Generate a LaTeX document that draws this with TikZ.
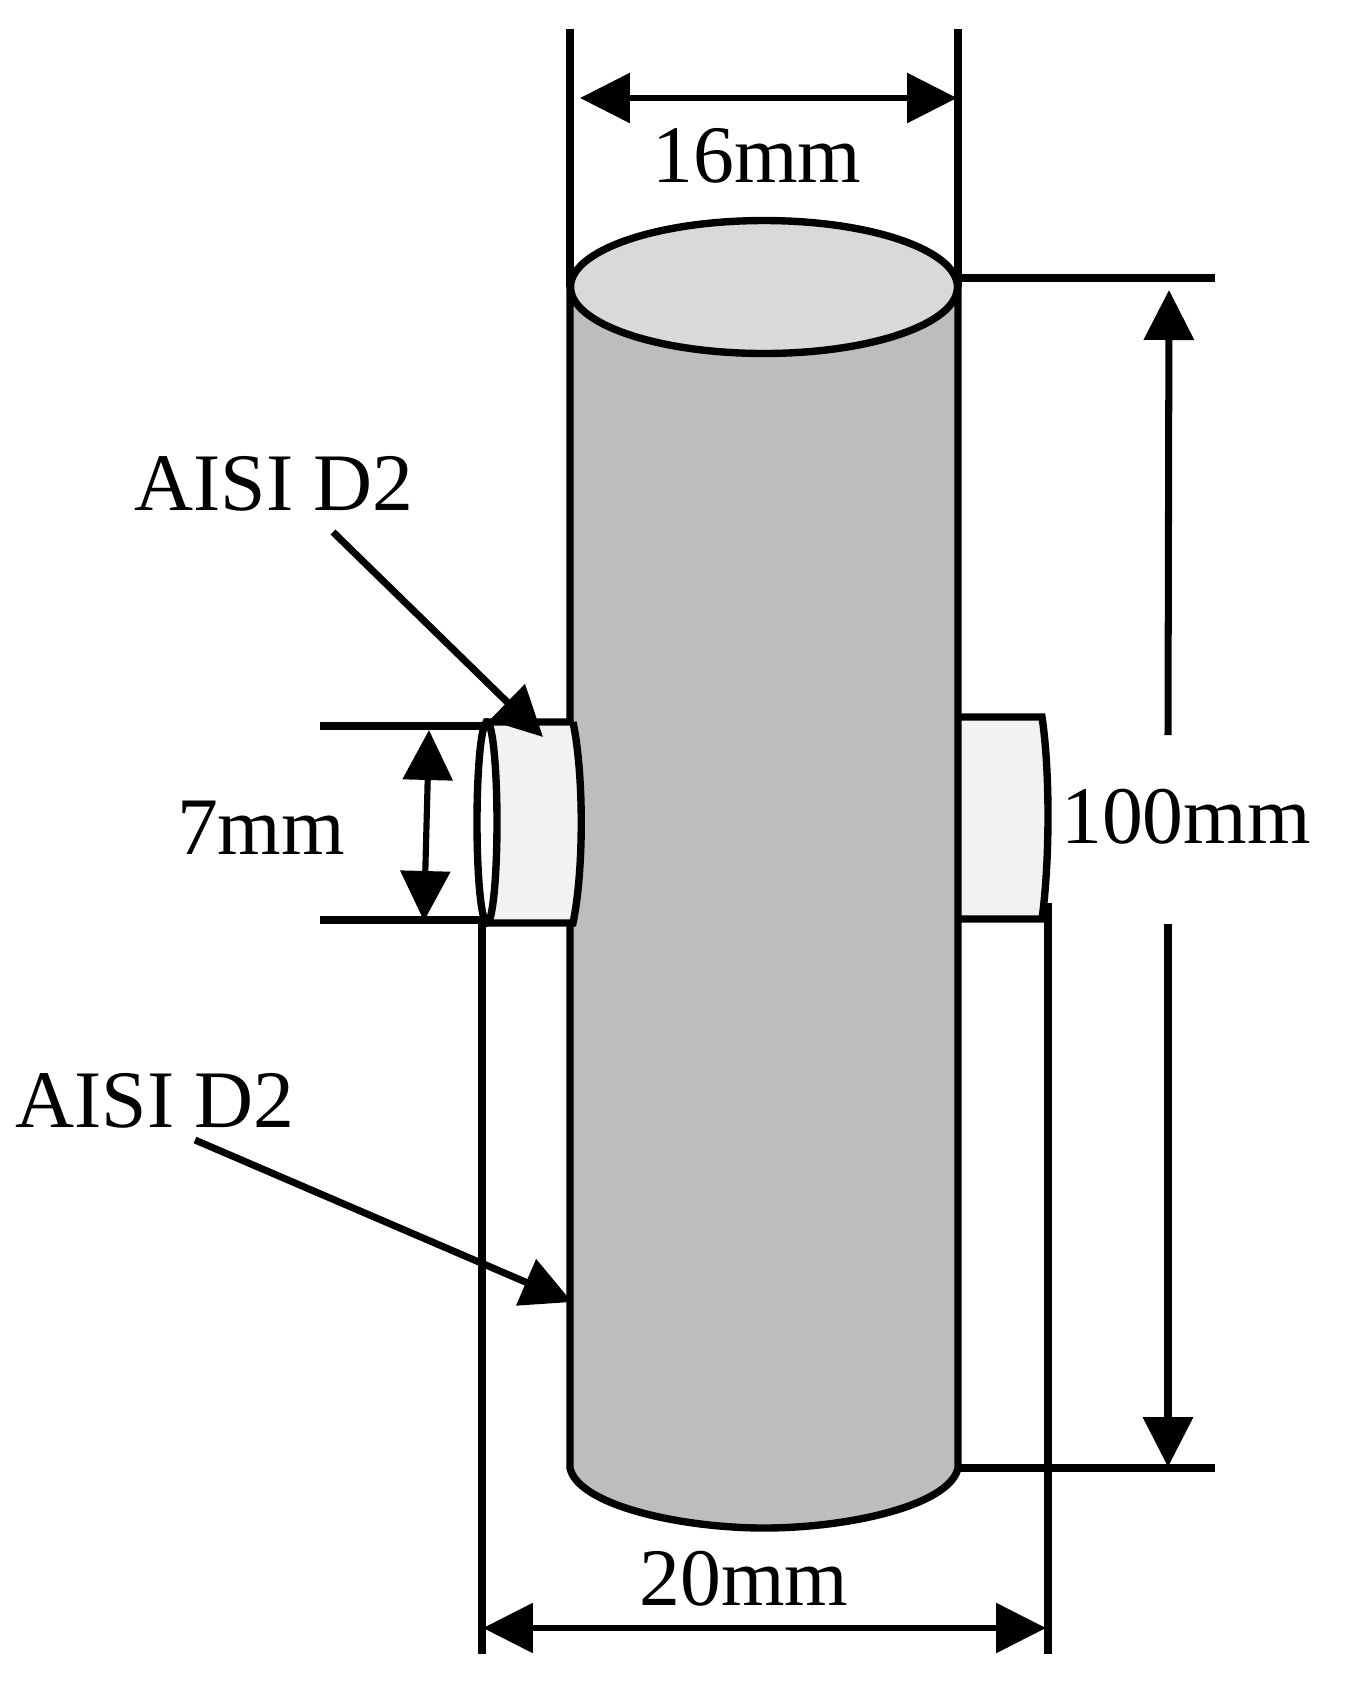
\documentclass[tikz,border=0pt]{standalone}
\usepackage{fontspec}
\setmainfont{Liberation Serif}
\usetikzlibrary{arrows.meta}
\tikzset{
	dimline/.style={line width=4.2pt},
	dimarrow/.style={line width=3.5pt,{Triangle[length=1.0cm,width=0.98cm]}-{Triangle[length=1.0cm,width=0.98cm]}},
	leadarrow/.style={line width=4pt,-{Triangle[length=1.0cm,width=0.98cm]}},
	dimlabel/.style={inner sep=0pt,anchor=base,font=\fontsize{46.5}{46.5}\selectfont},
}

\begin{document}
\begin{tikzpicture}[x=0.02cm,y=-0.02cm]
	\useasboundingbox (0,0) rectangle (1348,1695);
	\coordinate (1) at (570,29);
	\coordinate (2) at (958,29);
	\coordinate (3) at (570,1468);
	\coordinate (4) at (958,1468);
	\coordinate (5) at (482,923);
	\coordinate (6) at (482,1654);
	\coordinate (7) at (1048,903);
	\coordinate (8) at (1048,1654);
	\coordinate (9) at (961,278);
	\coordinate (10) at (1215,278);
	\coordinate (11) at (961,1468);
	\coordinate (12) at (1215,1468);
	\coordinate (13) at (320,726);
	\coordinate (14) at (482,726);
	\coordinate (15) at (320,920);
	\coordinate (16) at (482,920);
	% pin on the right
	\draw[dimline,fill=black!5] (958,717) -- (1042,717) .. controls (1050,770) and (1050,860) .. (1042,919) -- (958,919);
	% body of the rod
	\fill[fill=black!26] (570,287) -- (3) .. controls (578,1505) and (680,1528) .. (764,1528) .. controls (850,1528) and (950,1505) .. (4) -- (958,287) -- cycle;
	\draw[dimline] (570,287) -- (3) .. controls (578,1505) and (680,1528) .. (764,1528) .. controls (850,1528) and (950,1505) .. (4) -- (958,287);
	% pin on the left
	\draw[dimline,fill=black!5] (573,722) -- (487,722) -- (487,923) -- (573,923) .. controls (584,870) and (584,775) .. (573,722);
	\draw[dimline,fill=white] (487,822.5) ellipse [x radius=0.2cm,y radius=2.01cm];
	% top of the rod
	\draw[dimline,fill=black!15] (764,287) ellipse [x radius=3.87cm,y radius=1.33cm];
	% dimension lines
	\draw[dimline] (1) -- (570,287);
	\draw[dimline] (2) -- (958,287);
	\draw[dimline] (5) -- (6);
	\draw[dimline] (7) -- (8);
	\draw[dimline] (9) -- (10);
	\draw[dimline] (11) -- (12);
	\draw[dimline] (13) -- (14);
	\draw[dimline] (15) -- (16);
	% arrows
	\coordinate (a1) at (580,98);
	\coordinate (a2) at (957,98);
	\coordinate (b1) at (483,1628);
	\coordinate (b2) at (1046,1628);
	\coordinate (c1) at (429,730);
	\coordinate (c2) at (424,921);
	\coordinate (d1) at (1169,290);
	\coordinate (d2) at (1168,735);
	\coordinate (d3) at (1168,924);
	\coordinate (d4) at (1168,1467);
	\coordinate (e1) at (333,532);
	\coordinate (e2) at (543,737);
	\coordinate (f1) at (195,1140);
	\coordinate (f2) at (572,1302);
	\draw[dimarrow] (a1) -- (a2);
	\draw[dimarrow] (b1) -- (b2);
	\draw[dimarrow] (c1) -- (c2);
	\draw[leadarrow] (d2) -- (d1);
	\draw[leadarrow] (d3) -- (d4);
	\draw[leadarrow] (e1) -- (e2);
	\draw[leadarrow] (f1) -- (f2);
	% labels
	\node[dimlabel] (lab16) at (757,182) {16mm};
	\node[dimlabel] (lab20) at (744,1605) {20mm};
	\node[dimlabel] (lab7) at (261,854) {7mm};
	\node[dimlabel] (lab100) at (1186,843) {100mm};
	\node[dimlabel] (labtop) at (274,510) {AISI D2};
	\node[dimlabel] (labbot) at (155,1127) {AISI D2};
\end{tikzpicture}
\end{document}
